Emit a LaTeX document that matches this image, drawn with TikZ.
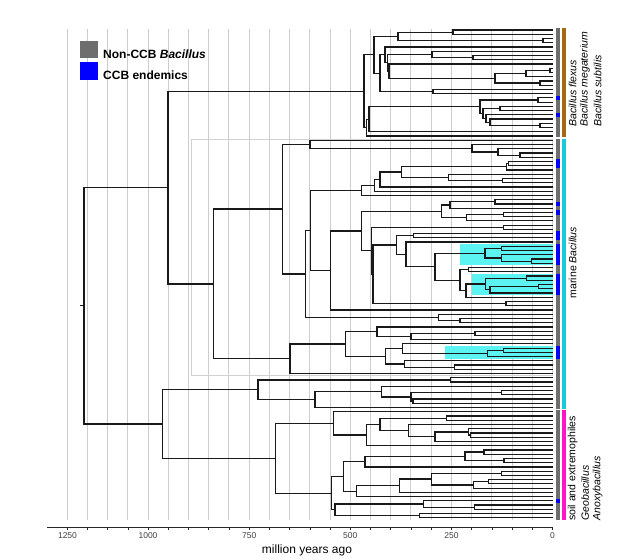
\documentclass[tikz,border=0pt]{standalone}
\usepackage{fontspec}
\setmainfont{Liberation Sans}
\definecolor{tipgray}{HTML}{6E6E6E}
\definecolor{brownbar}{HTML}{A36A12}
\definecolor{cyanbar}{HTML}{1DC9D6}
\definecolor{magbar}{HTML}{FF14C8}
\definecolor{hl}{HTML}{5CF3F3}
\definecolor{gridc}{HTML}{CDCDCD}
\definecolor{legblue}{HTML}{0000FF}
\def\yo{30}
\def\dy{4.2417}
\newcommand\phyN[4]{%
  \edef\phxa{\csname nx#3\endcsname}\edef\phya{\csname ny#3\endcsname}%
  \edef\phxb{\csname nx#4\endcsname}\edef\phyb{\csname ny#4\endcsname}%
  \pgfmathsetmacro\phym{(\phya+\phyb)/2}%
  \expandafter\xdef\csname ny#1\endcsname{\phym}%
  \expandafter\xdef\csname nx#1\endcsname{#2}%
  \draw[br] (\phxa,\phya) -- (#2,\phya) -- (#2,\phyb) -- (\phxb,\phyb);%
}
\begin{document}
\begin{tikzpicture}[x=1pt,y=-1pt,
  br/.style={line width=1.2pt,black!90},
  lab/.style={rotate=90,anchor=west,inner sep=0pt,font=\fontsize{10.5}{12.5}\selectfont},
  axl/.style={inner sep=0pt,text=black!75,font=\fontsize{8.5}{10}\selectfont}]
\useasboundingbox (0,0) rectangle (617,559);
% grid
\foreach \k in {1,...,24} \draw[gridc,line width=1pt] ({552.5-\k*20.22},29) -- ({552.5-\k*20.22},520);
% highlighted clade box outline
\draw[black!18,line width=0.7pt] (191.7,139) rectangle (552.5,375.7);
% highlight boxes
\fill[hl] (460,{\yo+51*\dy-\dy/2}) rectangle (552.5,{\yo+55*\dy+\dy/2});
\fill[hl] (472.3,{\yo+58*\dy-\dy/2}) rectangle (552.5,{\yo+62*\dy+\dy/2});
\fill[hl] (445,{\yo+75*\dy-\dy/2}) rectangle (552.5,{\yo+77*\dy+\dy/2});
% tips
\foreach \i in {0,...,115}{%
  \pgfmathsetmacro\tmpy{\yo+\i*\dy}%
  \expandafter\xdef\csname ny\i\endcsname{\tmpy}%
  \expandafter\xdef\csname nx\i\endcsname{552.5}}
% ---- brown clade
\phyN{a}{453}{0}{1}
\phyN{b}{543}{2}{3}
\phyN{Ua}{398}{a}{b}
\phyN{f}{473}{6}{7}
\phyN{e}{432}{5}{f}
\phyN{k}{550}{9}{10}
\phyN{i}{526}{k}{11}
\phyN{j}{540}{12}{13}
\phyN{h}{495}{i}{j}
\phyN{g}{389}{8}{h}
\phyN{d}{387.5}{e}{g}
\phyN{c}{385}{4}{d}
\phyN{m}{433}{14}{15}
\phyN{Ub}{380}{c}{m}
\phyN{U}{374}{Ua}{Ub}
\phyN{o}{538}{16}{17}
\phyN{q}{500}{18}{19}
\phyN{t}{540}{22}{23}
\phyN{s}{490}{21}{t}
\phyN{r}{486}{20}{s}
\phyN{p}{483}{q}{r}
\phyN{n}{480}{o}{p}
\phyN{Lp}{369}{n}{24}
\phyN{L}{366.5}{Lp}{25}
\phyN{Rb}{364}{U}{L}
% ---- marine clade
\phyN{Y}{520}{29}{30}
\phyN{X}{498}{28}{Y}
\phyN{W}{472}{27}{X}
\phyN{Va}{310}{26}{W}
\phyN{Nb}{508.5}{31}{32}
\phyN{Nf}{506.7}{Nb}{33}
\phyN{Nsix}{502.7}{35}{36}
\phyN{Nfive}{448.3}{34}{Nsix}
\phyN{Nthree}{401.7}{Nf}{Nfive}
\phyN{Ntwo}{380}{Nthree}{37}
\phyN{None}{374.3}{Ntwo}{38}
\phyN{M}{361.7}{None}{39}
\phyN{Rtwo}{495}{40}{41}
\phyN{Rone}{450}{Rtwo}{42}
\phyN{Rfour}{503.3}{43}{44}
\phyN{Rthree}{466.7}{Rfour}{45}
\phyN{Q}{441.7}{Rone}{Rthree}
\phyN{Pone}{503.3}{46}{47}
\phyN{Pfive}{413.3}{48}{49}
\phyN{Bia}{501.7}{51}{52}
\phyN{Bic}{531.7}{54}{55}
\phyN{Bib}{501.7}{53}{Bic}
\phyN{Bi}{485}{Bia}{Bib}
\phyN{Peighta}{468.3}{56}{57}
\phyN{Biia}{526.7}{58}{59}
\phyN{Biic}{538.3}{60}{61}
\phyN{Biib}{490}{Biic}{62}
\phyN{Bii}{485.7}{Biia}{Biib}
\phyN{Peightc}{466}{Bii}{63}
\phyN{Peight}{460}{Peighta}{Peightc}
\phyN{Pseven}{435}{Bi}{Peight}
\phyN{Psix}{406}{50}{Pseven}
\phyN{Pthree}{396.7}{Pfive}{Psix}
\phyN{Pfour}{506}{64}{65}
\phyN{Ptwo}{373}{Pthree}{Pfour}
\phyN{P}{371.7}{Pone}{Ptwo}
\phyN{S}{361.7}{Q}{P}
\phyN{Sb}{330.7}{S}{66}
\phyN{Mt}{310.7}{M}{Sb}
\phyN{Fz}{460}{68}{69}
\phyN{Fy}{438.3}{67}{Fz}
\phyN{Vb}{305.7}{Mt}{Fy}
\phyN{V}{282.7}{Va}{Vb}
\phyN{J}{475}{71}{72}
\phyN{Ja}{411}{J}{73}
\phyN{Jb}{377}{70}{Ja}
\phyN{F}{503.3}{75}{76}
\phyN{E}{487.7}{F}{77}
\phyN{Ea}{402.3}{74}{E}
\phyN{G}{454.3}{79}{80}
\phyN{Gb}{404.3}{78}{G}
\phyN{Gc}{385.7}{Ea}{Gb}
\phyN{H}{345.7}{Jb}{Gc}
\phyN{Hb}{290}{H}{81}
\phyN{Big}{213.3}{V}{Hb}
\phyN{Up}{168}{Rb}{Big}
\phyN{Ka}{450.7}{82}{83}
\phyN{Kc}{501.7}{85}{86}
\phyN{Kd}{413}{87}{88}
\phyN{Kb}{411}{Kc}{Kd}
\phyN{Ke}{381.7}{84}{Kb}
\phyN{Kf}{315}{Ke}{89}
\phyN{K}{258}{Ka}{Kf}
% ---- soil and extremophiles
\phyN{MUfour}{446.7}{91}{92}
\phyN{MUsevb}{470.7}{95}{96}
\phyN{MUsev}{468.3}{94}{MUsevb}
\phyN{MUsix}{435}{MUsev}{97}
\phyN{MUfive}{408.3}{93}{MUsix}
\phyN{MUthree}{380}{MUfour}{MUfive}
\phyN{MUtwo}{366.7}{MUthree}{98}
\phyN{MU}{333.3}{90}{MUtwo}
\phyN{MLfa}{484}{99}{100}
\phyN{MLfb}{504}{101}{102}
\phyN{MLf}{465}{MLfa}{MLfb}
\phyN{MLthree}{365}{MLf}{103}
\phyN{MLeight}{501.7}{104}{105}
\phyN{MLten}{488.3}{106}{107}
\phyN{MLnine}{473.3}{MLten}{108}
\phyN{MLseven}{431.7}{MLeight}{MLnine}
\phyN{MLsix}{399.3}{MLseven}{109}
\phyN{MLfour}{356.7}{MLsix}{110}
\phyN{MLone}{343.3}{MLthree}{MLfour}
\phyN{MLtw}{474.3}{112}{113}
\phyN{MLel}{423.3}{111}{MLtw}
\phyN{MLth}{419.3}{114}{115}
\phyN{MLtwo}{335}{MLel}{MLth}
\phyN{ML}{331.3}{MLone}{MLtwo}
\phyN{Mag}{275.7}{MU}{ML}
\phyN{Low}{162.3}{K}{Mag}
\phyN{root}{84}{Up}{Low}
\draw[br] (80,\csname nyroot\endcsname) -- (84,\csname nyroot\endcsname);
% tip strip
\fill[tipgray] (556,{\yo-\dy/2}) rectangle (560,{\yo+25*\dy+\dy/2-0.7});
\fill[tipgray] (556,{\yo+26*\dy-\dy/2+0.7}) rectangle (560,{\yo+89*\dy+\dy/2-0.7});
\fill[tipgray] (556,{\yo+90*\dy-\dy/2+0.7}) rectangle (560,{\yo+115*\dy+\dy/2});
\foreach \i in {16,20,31,32,41,43,48,49,51,52,53,54,55,58,59,60,61,62,75,76,77,111}
  \fill[legblue] (556,{\yo+\i*\dy-\dy/2}) rectangle (560,{\yo+\i*\dy+\dy/2});
% group bars
\fill[brownbar] (562,{\yo-\dy/2}) rectangle (566,{\yo+25*\dy+\dy/2-0.7});
\fill[cyanbar] (562,{\yo+26*\dy-\dy/2+0.7}) rectangle (566,{\yo+89*\dy+\dy/2-0.7});
\fill[magbar] (562,{\yo+90*\dy-\dy/2+0.7}) rectangle (566,{\yo+115*\dy+\dy/2});
% group labels
\node[lab] at (572.7,126.7) {\itshape Bacillus flexus};
\node[lab] at (585,126.7) {\itshape Bacillus megaterium};
\node[lab] at (597.7,126.7) {\itshape Bacillus subtilis};
\node[lab] at (572.7,298.3) {marine \textit{Bacillus}};
\node[lab] at (572.7,520.7) {soil and extremophiles};
\node[lab] at (585,520.7) {\itshape Geobacillus};
\node[lab] at (597.7,520.7) {\itshape Anoxybacillus};
% legend
\fill[tipgray] (80,40.7) rectangle (97.7,58.3);
\fill[legblue] (80,61.7) rectangle (97.7,80);
\node[anchor=base west,inner sep=0pt,font=\fontsize{12}{14}\selectfont\bfseries] at (103,58.3) {Non-CCB \textit{Bacillus}};
\node[anchor=base west,inner sep=0pt,font=\fontsize{12}{14}\selectfont\bfseries] at (103,79.7) {CCB endemics};
% axis
\draw[line width=0.9pt,black!85] (47,527) -- (553,527);
\foreach \k in {0,...,24} \draw[line width=0.7pt,black!85] ({552.5-\k*20.22},527) -- ++(0,2.8);
\node[axl] at (552.5,536) {0};
\node[axl] at (451.4,536) {250};
\node[axl] at (350.3,536) {500};
\node[axl] at (249.2,536) {750};
\node[axl] at (148,536) {1000};
\node[axl] at (67.5,536) {1250};
\node[inner sep=0pt,font=\fontsize{12}{14}\selectfont] at (307,550) {million years ago};
\end{tikzpicture}
\end{document}
